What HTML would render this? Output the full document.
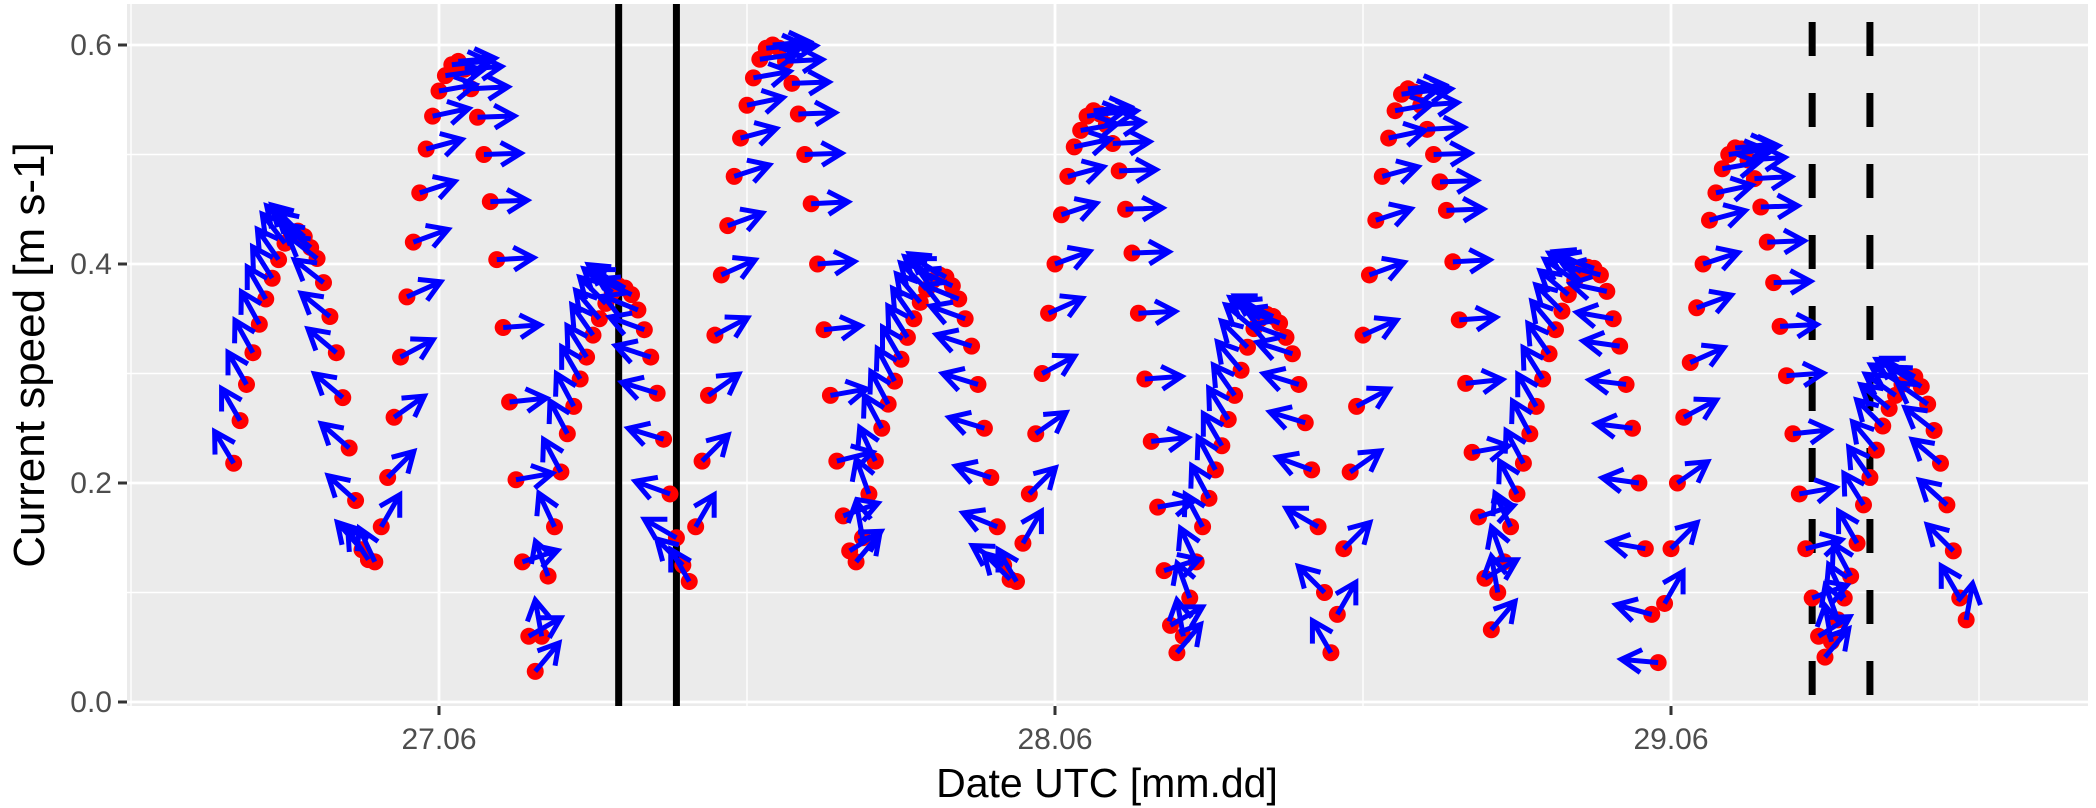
<!DOCTYPE html>
<html><head><meta charset="utf-8">
<style>
html,body{margin:0;padding:0;background:#fff;}
svg{display:block;font-family:"Liberation Sans",Arial,sans-serif;}
</style></head>
<body>
<svg id="chart" width="2096" height="808" viewBox="0 0 2096 808" xmlns="http://www.w3.org/2000/svg">
  <rect x="127" y="4" width="1961" height="702" fill="#ebebeb"/>
  <g id="grid"></g>
  <g id="vlines"></g>
  <g id="points"></g>
  <g id="arrows"></g>
  <g id="axes"></g>
  <text transform="translate(44,355) rotate(-90)" text-anchor="middle" font-size="44" fill="#000">Current speed [m s-1]</text>
  <text x="1107" y="797" text-anchor="middle" font-size="41" fill="#000">Date UTC [mm.dd]</text>
</svg>
<script>
// time axis: hours since 27.06 00:00 UTC, 15-minute sampling
const startHour = -8;
const stepHours = 0.25;
// current speed [m s-1]
const speed = [
0.218,0.257,0.29,0.319,0.345,0.368,0.387,0.404,0.419,0.428,0.43,0.425,0.415,0.405,0.383,0.352,0.319,0.278,0.232,0.184,0.139,0.13,0.128,
0.16,0.205,0.26,0.315,0.37,0.42,0.465,0.505,0.535,0.558,0.572,0.582,0.585,0.578,0.56,0.534,0.50,0.457,0.404,0.342,0.274,0.203,0.128,0.06,0.028,
0.06,0.115,0.16,0.21,0.245,0.27,0.295,0.315,0.335,0.35,0.364,0.374,0.38,0.378,0.372,0.358,0.34,0.315,0.282,0.24,0.19,0.15,0.125,0.11,
0.16,0.22,0.28,0.335,0.39,0.435,0.48,0.515,0.545,0.57,0.587,0.597,0.6,0.597,0.585,0.565,0.537,0.5,0.455,0.4,0.34,0.28,0.22,0.17,0.138,0.128,
0.15,0.19,0.22,0.25,0.272,0.293,0.313,0.333,0.35,0.365,0.377,0.385,0.39,0.388,0.38,0.368,0.35,0.325,0.29,0.25,0.205,0.16,0.125,0.112,0.11,
0.145,0.19,0.245,0.3,0.355,0.4,0.445,0.48,0.507,0.522,0.535,0.54,0.537,0.527,0.51,0.485,0.45,0.41,0.355,0.295,0.238,0.178,0.12,0.07,0.045,
0.06,0.095,0.128,0.16,0.186,0.212,0.234,0.258,0.28,0.303,0.324,0.341,0.35,0.354,0.352,0.346,0.333,0.318,0.29,0.255,0.212,0.16,0.1,0.045,
0.08,0.14,0.21,0.27,0.335,0.39,0.44,0.48,0.515,0.54,0.555,0.56,0.557,0.545,0.523,0.5,0.475,0.449,0.402,0.349,0.291,0.228,0.169,0.113,0.066,
0.1,0.128,0.16,0.19,0.218,0.245,0.27,0.295,0.318,0.34,0.357,0.372,0.385,0.393,0.397,0.396,0.39,0.375,0.35,0.325,0.29,0.25,0.2,0.14,0.08,0.036,
0.09,0.14,0.2,0.26,0.31,0.36,0.4,0.44,0.465,0.487,0.5,0.506,0.505,0.495,0.478,0.452,0.42,0.383,0.343,0.298,0.245,0.19,0.14,0.095,0.06,0.041,
0.055,0.075,0.095,0.115,0.145,0.18,0.205,0.23,0.252,0.268,0.28,0.29,0.296,0.297,0.288,0.272,0.248,0.218,0.18,0.138,0.095,0.075
];
// current direction, degrees counter-clockwise from east
const direction = [
121,120,120,119,119,120,122,125,128,132,135,138,140,142,142,141,140,140,139,138,132,124,115,
60,45,35,28,24,20,18,15,12,10,8,6,5,4,3,2,2,2,3,4,6,10,18,30,50,
100,110,115,118,118,118,120,122,125,130,135,140,145,150,155,158,160,162,163,163,160,150,135,120,
60,45,35,28,24,20,18,15,12,10,8,6,5,4,3,2,2,2,3,4,6,10,14,20,32,50,
100,110,115,118,118,118,120,122,125,130,135,140,145,150,155,158,160,162,163,163,162,158,148,135,120,
60,45,35,28,24,20,18,15,12,10,8,6,5,4,3,2,2,2,3,4,6,10,18,30,50,
100,110,115,118,118,118,120,122,125,130,135,140,145,150,155,158,160,162,163,163,160,150,135,120,
60,45,35,28,24,20,18,15,12,10,8,6,5,4,3,2,2,2,3,4,6,10,18,30,50,
100,110,115,118,118,118,120,122,125,130,135,140,145,150,155,160,165,168,170,172,173,173,172,170,165,175,
60,45,35,28,24,20,18,15,12,10,8,6,5,4,3,2,2,2,3,4,6,10,14,20,32,50,
100,110,115,118,120,122,125,130,135,140,145,148,150,150,148,145,142,140,138,135,120,80
];
const yTicks = [0, 0.2, 0.4, 0.6];
const yTickLabels = ["0.0", "0.2", "0.4", "0.6"];
const yMinor = [0.1, 0.3, 0.5];
const xTicks = [0, 24, 48];
const xTickLabels = ["27.06", "28.06", "29.06"];
const xMinor = [-12, 12, 36, 60];
const solidLines = [7.0, 9.25];
const dashedLines = [53.5, 55.75];

const NS = "http://www.w3.org/2000/svg";
const P = {l:127, r:2088, t:4, b:706};
function xs(h){ return 439 + h * 616 / 24; }
function ys(v){ return 702 - v * 1095; }
function mk(tag, attrs, parent){
  const e = document.createElementNS(NS, tag);
  for (const k in attrs) e.setAttribute(k, attrs[k]);
  parent.appendChild(e);
  return e;
}
const grid = document.getElementById('grid');
yMinor.forEach(v => {
  const e = mk('line', {x1:P.l, x2:P.r, y1:ys(v), y2:ys(v), stroke:'#fff', 'stroke-width':1.4}, grid);
  
  
});
xMinor.forEach(h => {
  const e = mk('line', {x1:xs(h), x2:xs(h), y1:P.t, y2:P.b, stroke:'#fff', 'stroke-width':1.4}, grid);
  
  
});
yTicks.forEach(v => {
  const e = mk('line', {x1:P.l, x2:P.r, y1:ys(v), y2:ys(v), stroke:'#fff', 'stroke-width':2.8}, grid);
  
  
});
xTicks.forEach(h => {
  const e = mk('line', {x1:xs(h), x2:xs(h), y1:P.t, y2:P.b, stroke:'#fff', 'stroke-width':2.8}, grid);
  
  
});
const vl = document.getElementById('vlines');
solidLines.forEach(h => {
  const e = mk('line', {x1:xs(h), x2:xs(h), y1:P.t, y2:P.b, stroke:'#000', 'stroke-width':7}, vl);
  
  
});
dashedLines.forEach(h => {
  const e = mk('line', {x1:xs(h), x2:xs(h), y1:P.t + 18, y2:P.b, stroke:'#000', 'stroke-width':7, 'stroke-dasharray':'34 37'}, vl);
  
  
});
const pg = document.getElementById('points');
const ag = document.getElementById('arrows');
const L = 37, H = 23;
speed.forEach((v, i) => {
  const h = startHour + i * stepHours;
  const cx = xs(h), cy = ys(v);
  const c = mk('circle', {cx:cx, cy:cy, r:8.5, fill:'#ff0000'}, pg);
  
  
  const a = direction[i] * Math.PI / 180;
  const tx = cx + L * Math.cos(a), ty = cy - L * Math.sin(a);
  const b1 = a + Math.PI - Math.PI / 6, b2 = a + Math.PI + Math.PI / 6;
  const d = `M${cx},${cy}L${tx},${ty}M${tx + H*Math.cos(b1)},${ty - H*Math.sin(b1)}L${tx},${ty}L${tx + H*Math.cos(b2)},${ty - H*Math.sin(b2)}`;
  const p = mk('path', {d:d, stroke:'#0000ff', 'stroke-width':5, fill:'none', 'stroke-linecap':'butt', 'stroke-linejoin':'miter'}, ag);
  
  
});
const ax = document.getElementById('axes');
yTicks.forEach((v, i) => {
  const t = mk('line', {x1:P.l - 9, x2:P.l, y1:ys(v), y2:ys(v), stroke:'#333', 'stroke-width':3}, ax);
  
  
  const tx = mk('text', {x:P.l - 15, y:ys(v) + 10, 'text-anchor':'end', 'font-size':30, fill:'#4d4d4d'}, ax);
  tx.textContent = yTickLabels[i];
  
  
});
xTicks.forEach((h, i) => {
  const t = mk('line', {x1:xs(h), x2:xs(h), y1:P.b, y2:P.b + 9, stroke:'#333', 'stroke-width':3}, ax);
  
  
  const tx = mk('text', {x:xs(h), y:P.b + 43, 'text-anchor':'middle', 'font-size':30, fill:'#4d4d4d'}, ax);
  tx.textContent = xTickLabels[i];
  
  
});
</script>
</body></html>
